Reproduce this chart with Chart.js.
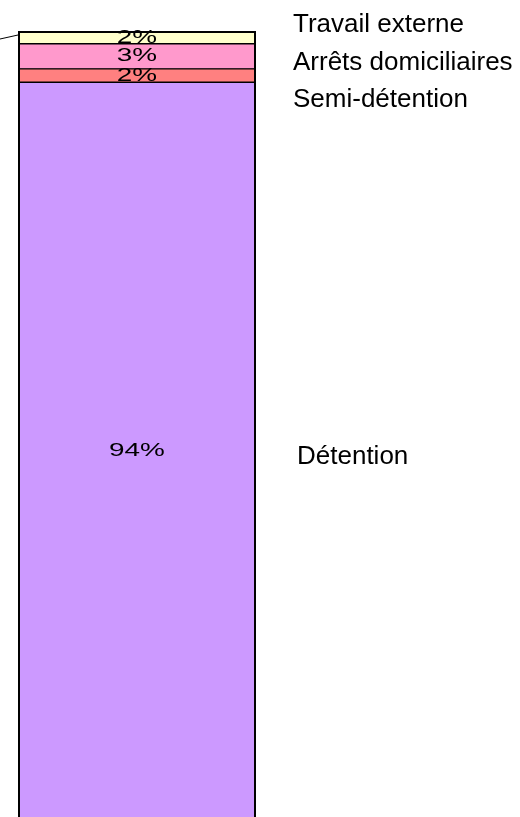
<!DOCTYPE html>
<html>
<head>
<meta charset="utf-8">
<script src="https://cdn.jsdelivr.net/npm/chart.js@4"></script>
<style>
  html, body { margin: 0; padding: 0; background: #fff; overflow: hidden; }
  canvas { display: block; }
</style>
</head>
<body>
<canvas id="chart" width="520" height="840"></canvas>
<script>
/* single stacked bar */
const categories = ["Total"];
const seriesNames = ["Détention", "Semi-détention", "Arrêts domiciliaires", "Travail externe"];
const seriesValues = [94, 1.7, 3.2, 1.5];
const seriesColors = ["#CC99FF", "#FF8080", "#FF99CC", "#FFFFCC"];

const total = seriesValues.reduce((a, b) => a + b, 0);

// percent labels inside segments + names on the right
const labelsPlugin = {
  id: "labels",
  afterDatasetsDraw(chart) {
    const ctx = chart.ctx;
    const area = chart.chartArea;
    const yScale = chart.scales.y;

    // series line going off to the left
    const topY = yScale.getPixelForValue(total);
    ctx.save();
    ctx.strokeStyle = "#000";
    ctx.lineWidth = 1;
    ctx.beginPath();
    ctx.moveTo(0, topY + 7);
    ctx.lineTo(area.left, topY + 3);
    ctx.stroke();
    // outer frame of the bar
    ctx.lineWidth = 2;
    ctx.strokeRect(area.left + 1, topY, area.right - area.left - 2, yScale.getPixelForValue(0) - topY);
    ctx.restore();

    const centers = [];
    let barRight = area.right;
    chart.data.datasets.forEach((ds, i) => {
      const bar = chart.getDatasetMeta(i).data[0];
      const cy = (bar.y + bar.base) / 2;
      centers.push(cy);
      barRight = bar.x + bar.width / 2;

      ctx.save();
      ctx.fillStyle = "#000";
      ctx.font = '18px "Liberation Sans", Arial, sans-serif';
      ctx.textAlign = "center";
      ctx.textBaseline = "middle";
      ctx.translate(bar.x, cy);
      ctx.scale(1.55, 1);
      ctx.fillText(Math.round(ds.data[0]) + "%", 0, 0);
      ctx.restore();
    });

    // spread the names so they do not overlap
    const order = centers.map((c, i) => i).sort((a, b) => centers[a] - centers[b]);
    const pos = order.map(i => centers[i]);
    const gap = 37.5;
    for (let it = 0; it < 100; it++) {
      for (let k = 0; k < pos.length - 1; k++) {
        const d = gap - (pos[k + 1] - pos[k]);
        if (d > 0) { pos[k] -= d / 2; pos[k + 1] += d / 2; }
      }
    }

    ctx.save();
    ctx.fillStyle = "#000";
    ctx.font = '26px "Liberation Sans", Arial, sans-serif';
    ctx.textAlign = "left";
    ctx.textBaseline = "alphabetic";
    order.forEach((i, k) => {
      const dx = i === 0 ? 41 : 37;
      ctx.fillText(seriesNames[i], barRight + dx, pos[k] + 13);
    });
    ctx.restore();
  }
};

new Chart(document.getElementById("chart"), {
  type: "bar",
  data: {
    labels: categories,
    datasets: seriesNames.map((name, i) => ({
      label: name,
      data: [seriesValues[i]],
      backgroundColor: seriesColors[i],
      borderColor: "#000",
      borderWidth: 1,
      borderSkipped: false,
      barPercentage: 1,
      categoryPercentage: 1
    }))
  },
  options: {
    responsive: false,
    animation: false,
    layout: { padding: { left: 18, right: 264, top: 32, bottom: 20 } },
    plugins: { legend: { display: false }, tooltip: { enabled: false } },
    scales: {
      x: { display: false, stacked: true },
      y: { display: false, stacked: true, min: 0, max: total }
    }
  },
  plugins: [labelsPlugin]
});
</script>
</body>
</html>
